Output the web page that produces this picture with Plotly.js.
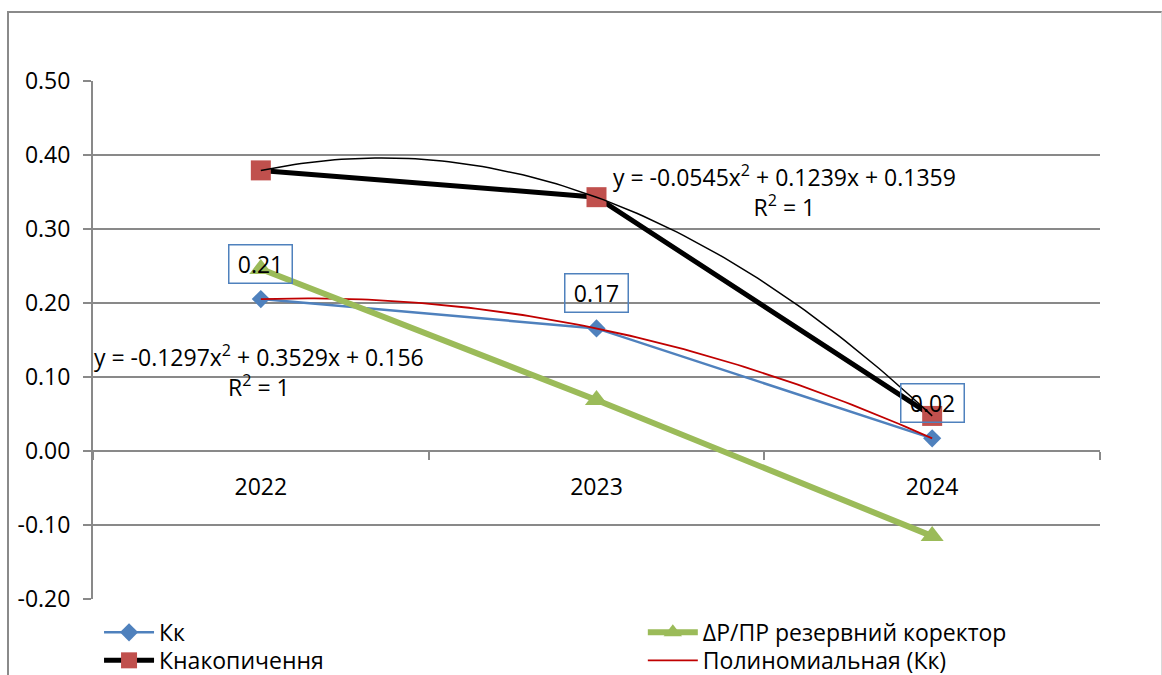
<!DOCTYPE html>
<html>
<head>
<meta charset="utf-8">
<script src="https://cdn.plot.ly/plotly-3.0.1.min.js"></script>
<style>
  html, body { margin: 0; padding: 0; background: #ffffff; }
  #frame {
    position: absolute; left: 7px; top: 11px; width: 1152px; height: 720px;
    border-top: 2px solid #8a8a8a; border-left: 2px solid #8a8a8a; border-right: 1px solid #d9d9d9;
  }
  #chart { position: absolute; left: 0; top: 0; width: 1162px; height: 675px; }
</style>
</head>
<body>
<div id="frame"></div>
<div id="chart"></div>
<script>
// Years and their positions on the horizontal axis
const years = ['2022', '2023', '2024'];
const xPos = [1, 2, 3];

// Series values
const kk = [0.2053, 0.1657, 0.0171];
const kNakop = [0.3792, 0.3430, 0.0474];
const reserve = [0.246, 0.069, -0.115];

// Second-order trend coefficients [a, b, c] for y = a·x² + b·x + c
const kkFit = [-0.0545, 0.1239, 0.1359];
const nakopFit = [-0.1297, 0.3529, 0.156];
const kkR2 = '1';
const nakopR2 = '1';

// Vertical axis ticks
const yTicks = [-0.2, -0.1, 0, 0.1, 0.2, 0.3, 0.4, 0.5];

const GRID = '#898989';
const FONT = 'Open Sans';
const FS = 23;

function fitCurve(coef) {
  const xs = [], ys = [];
  for (let i = 0; i <= 100; i++) {
    const x = xPos[0] + (xPos[xPos.length - 1] - xPos[0]) * i / 100;
    xs.push(x);
    ys.push(coef[0] * x * x + coef[1] * x + coef[2]);
  }
  return { xs, ys };
}

function signed(v, first) {
  if (first) return (v < 0 ? '-' : '') + Math.abs(v);
  return (v < 0 ? ' - ' : ' + ') + Math.abs(v);
}

function equation(coef, r2) {
  return 'y = ' + signed(coef[0], true) + 'x<sup>2</sup>' + signed(coef[1]) + 'x' +
         signed(coef[2]) + '<br>R<sup>2</sup> = ' + r2;
}

const kkTrend = fitCurve(kkFit);
const nakopTrend = fitCurve(nakopFit);

// Each legend entry sits in its own legend box (two columns, two rows)
const traces = [
  {
    x: xPos, y: kk, name: 'Кк', type: 'scatter', mode: 'lines+markers', legend: 'legend',
    line: { color: '#4f81bd', width: 2.5 },
    marker: { symbol: 'diamond', size: 14, color: '#4f81bd' }
  },
  {
    x: kkTrend.xs, y: kkTrend.ys, name: 'Полиномиальная (Кк)', type: 'scatter', mode: 'lines',
    legend: 'legend4', line: { color: '#c00000', width: 1.8 }
  },
  {
    x: xPos, y: reserve, name: 'ΔР/ПР резервний коректор', type: 'scatter', mode: 'lines+markers',
    legend: 'legend2', line: { color: '#9bbb59', width: 6 },
    marker: { symbol: 'triangle-up', size: 20, color: '#9bbb59' }
  },
  {
    x: xPos, y: kNakop, name: 'Кнакопичення', type: 'scatter', mode: 'lines+markers',
    legend: 'legend3', line: { color: '#000000', width: 5 },
    marker: { symbol: 'square', size: 20, color: '#c0504d' }
  },
  {
    x: nakopTrend.xs, y: nakopTrend.ys, name: 'Полиномиальная (Кнакопичення)', type: 'scatter',
    mode: 'lines', showlegend: false, xaxis: 'x2', line: { color: '#000000', width: 1.5 }
  }
];

const annotations = [];
// Value labels above the Кк points
kk.forEach((v, i) => {
  annotations.push({
    x: xPos[i], y: v, xref: 'x', yref: 'y', text: v.toFixed(2), showarrow: false,
    yshift: 35, width: 60, height: 35, bordercolor: '#4f81bd', borderwidth: 1.5,
    font: { family: FONT, size: FS, color: '#000' }
  });
});
// Trend equations
annotations.push({
  x: 2.56, y: 0.352, xref: 'x', yref: 'y', text: equation(kkFit, kkR2), showarrow: false,
  font: { family: FONT, size: FS, color: '#000' }
});
annotations.push({
  x: 0.995, y: 0.108, xref: 'x', yref: 'y', text: equation(nakopFit, nakopR2), showarrow: false,
  font: { family: FONT, size: FS, color: '#000' }
});

const zeroPos = (0 - yTicks[0]) / (yTicks[yTicks.length - 1] - yTicks[0]);

const legendStyle = {
  orientation: 'v', xanchor: 'left', yanchor: 'top', itemwidth: 50,
  bgcolor: 'rgba(0,0,0,0)', font: { family: FONT, size: FS, color: '#000' }
};
const col1 = 0.006, col2 = 0.546, row1 = -0.023, row2 = -0.077;

const layout = {
  width: 1162, height: 675,
  margin: { l: 93, r: 62, t: 81, b: 76, autoexpand: false },
  paper_bgcolor: 'rgba(0,0,0,0)', plot_bgcolor: 'rgba(0,0,0,0)',
  font: { family: FONT, size: FS, color: '#000' },
  showlegend: true,
  hovermode: false,
  xaxis: {
    range: [0.5, 3.5], tickvals: xPos, ticktext: years,
    anchor: 'free', position: zeroPos,
    ticks: 'outside', ticklen: 15, tickcolor: 'rgba(0,0,0,0)',
    showgrid: false, zeroline: false, showline: false, fixedrange: true
  },
  xaxis2: {
    overlaying: 'x', matches: 'x', range: [0.5, 3.5],
    tickvals: [0.5, 1.5, 2.5, 3.5], showticklabels: false,
    anchor: 'free', position: zeroPos,
    ticks: 'outside', ticklen: 8, tickwidth: 2, tickcolor: GRID,
    showgrid: false, zeroline: false, showline: false
  },
  yaxis: {
    range: [yTicks[0], yTicks[yTicks.length - 1]],
    tickvals: yTicks, ticktext: yTicks.map(v => v.toFixed(2)),
    ticks: 'outside', ticklen: 8, tickwidth: 2, tickcolor: GRID, ticklabelstandoff: 8,
    showgrid: true, gridcolor: GRID, gridwidth: 2,
    zeroline: true, zerolinecolor: GRID, zerolinewidth: 2,
    showline: true, linecolor: GRID, linewidth: 2, fixedrange: true
  },
  legend: Object.assign({}, legendStyle, { x: col1, y: row1 }),
  legend2: Object.assign({}, legendStyle, { x: col2, y: row1 }),
  legend3: Object.assign({}, legendStyle, { x: col1, y: row2 }),
  legend4: Object.assign({}, legendStyle, { x: col2, y: row2 }),
  annotations: annotations
};

Plotly.newPlot('chart', traces, layout, { displayModeBar: false, staticPlot: true });
</script>
</body>
</html>
